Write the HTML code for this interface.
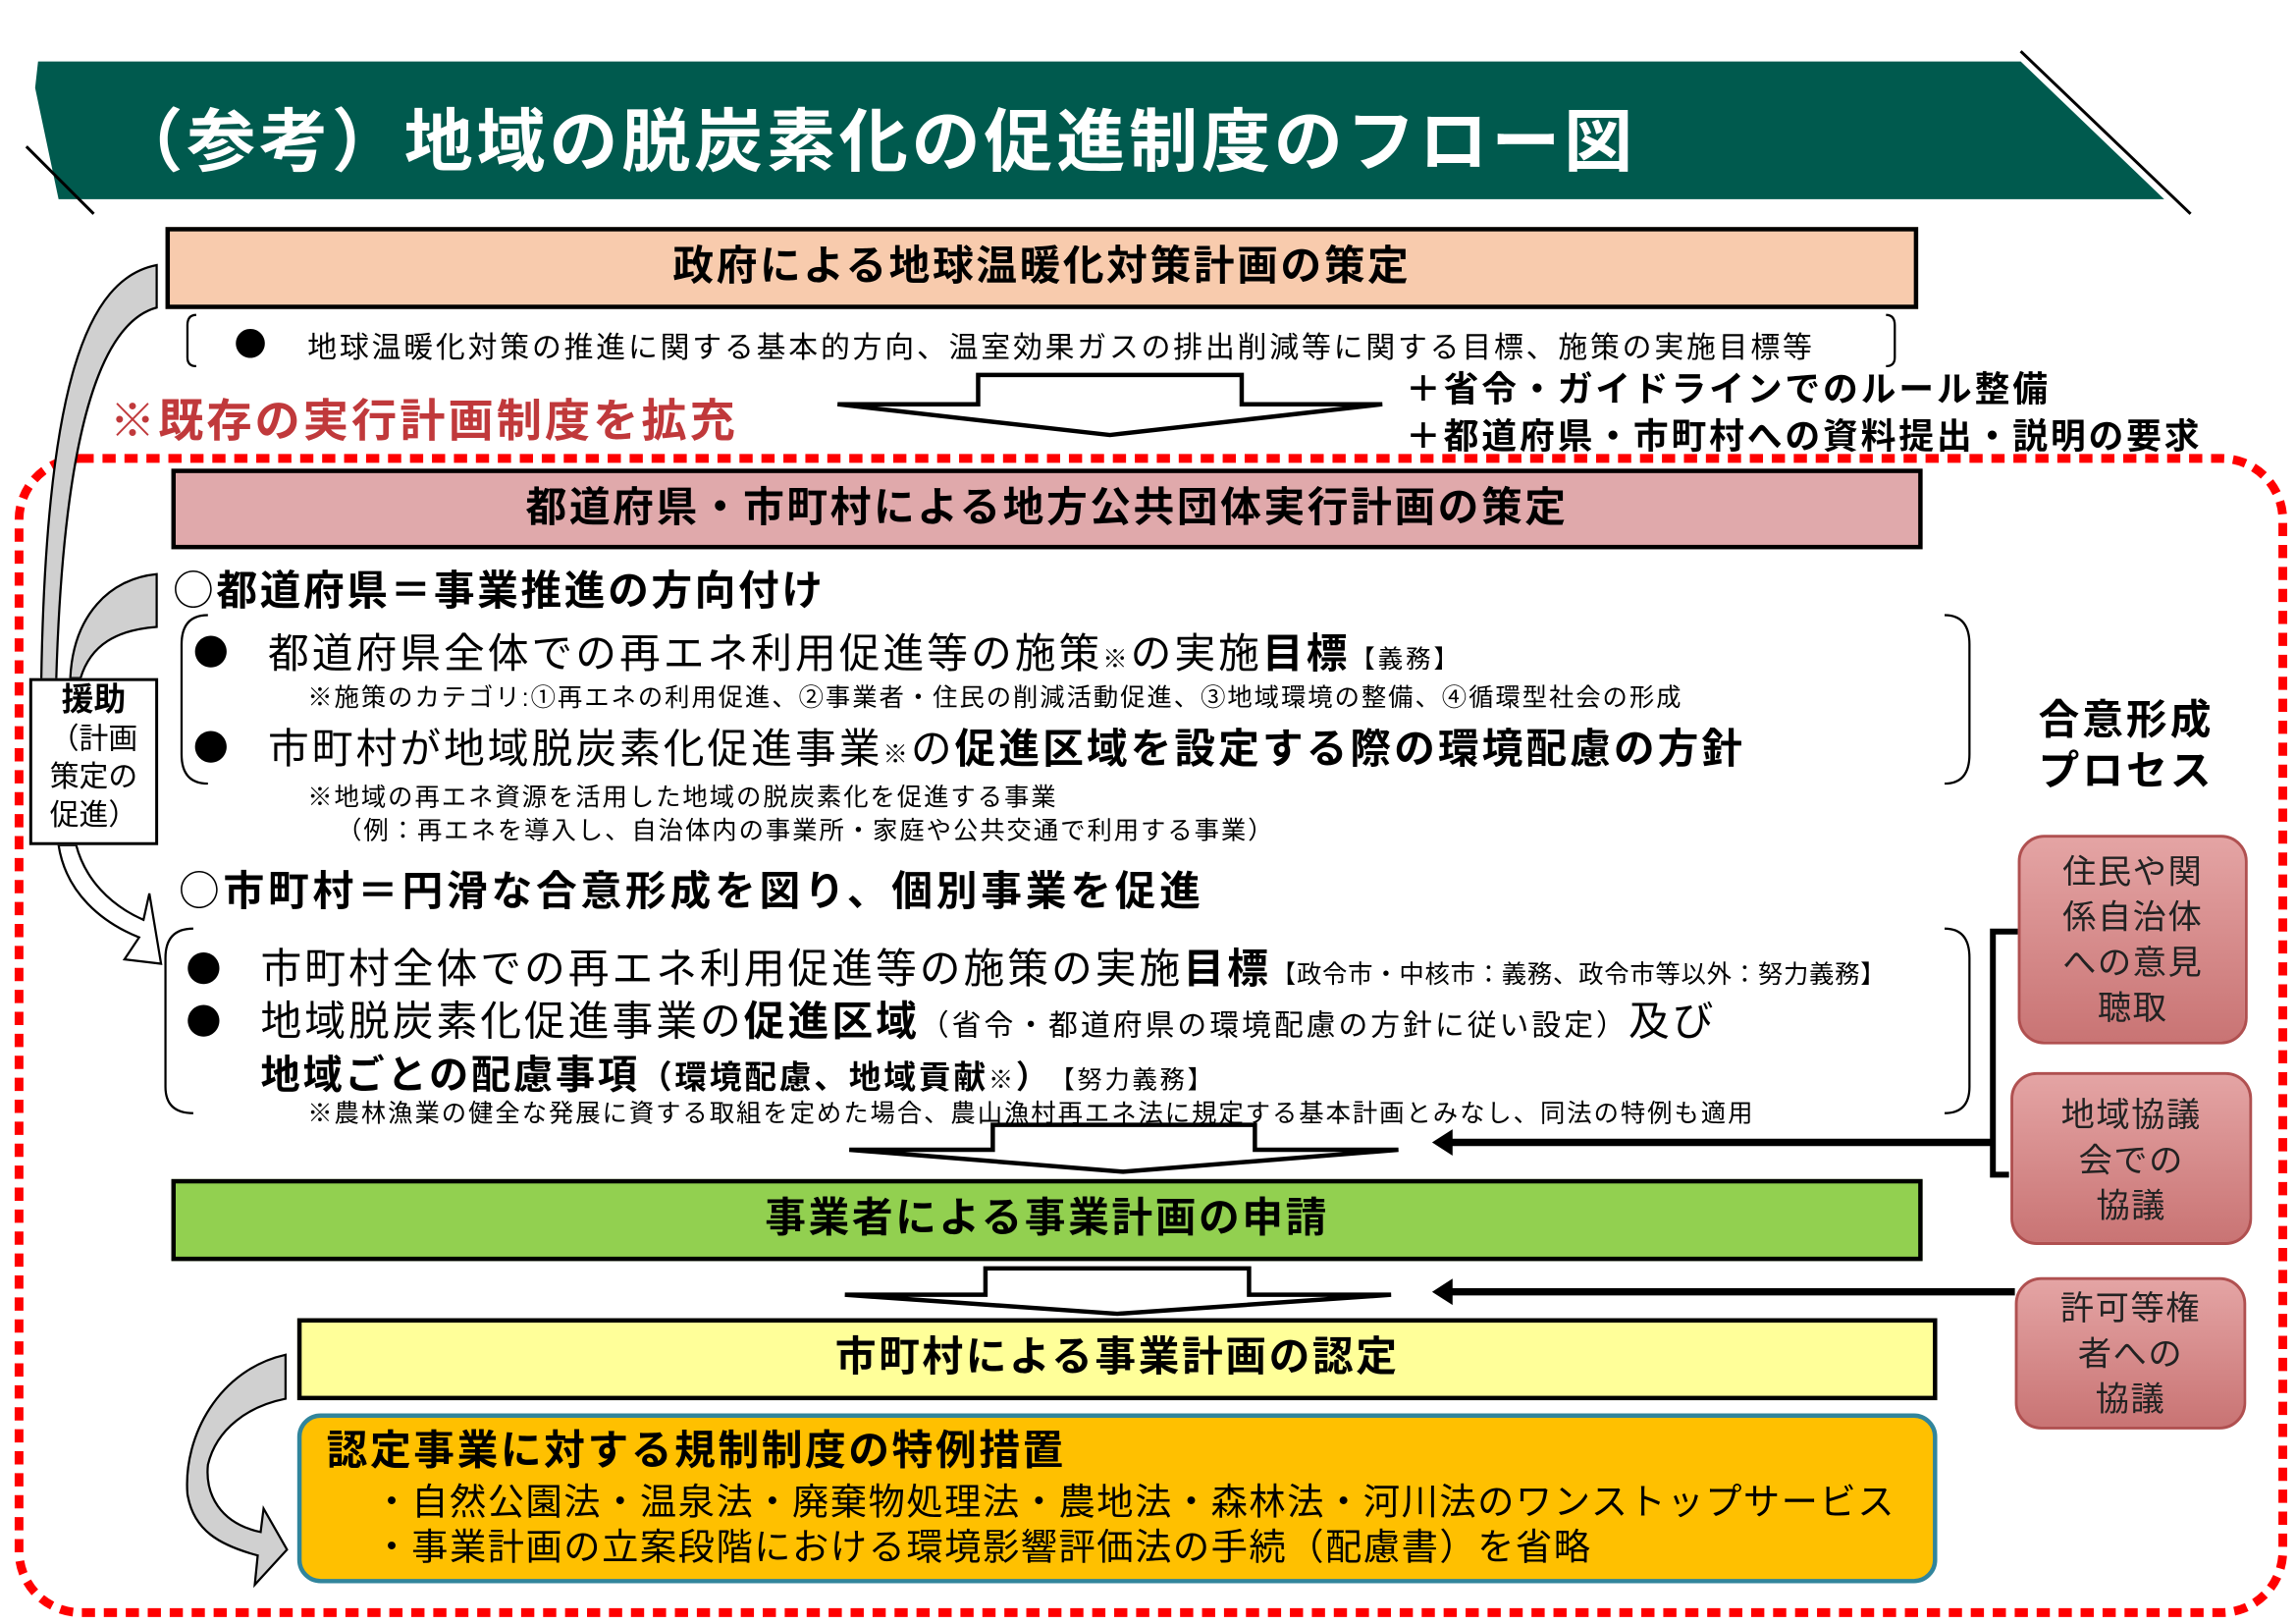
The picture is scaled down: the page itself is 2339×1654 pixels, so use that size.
<!DOCTYPE html>
<html><head><meta charset="utf-8"><style>
html,body{margin:0;padding:0;background:#fff;}
body{width:2339px;height:1654px;overflow:hidden;position:relative;}
#w{position:absolute;left:0;top:0;width:1568px;height:1109px;transform:scale(1.49171);transform-origin:0 0;font-family:"Liberation Sans","Noto Sans CJK JP",sans-serif;color:#000;}
.a{position:absolute;white-space:nowrap;}
.box{position:absolute;box-sizing:border-box;border:3px solid #000;display:flex;align-items:center;justify-content:center;font-weight:bold;font-size:28px;letter-spacing:1.7px;padding-bottom:6px;}
.b{font-weight:bold;}
.h{font-weight:bold;font-size:28px;letter-spacing:1.7px;}
.big{font-size:28px;letter-spacing:2px;}
.n{font-size:17px;letter-spacing:1.3px;}
.c{font-family:"Noto Sans CJK JP",sans-serif;}
.rb{position:absolute;box-sizing:border-box;border:2px solid #b05050;border-radius:18px;background:linear-gradient(#e4a4a4,#c97474);text-align:center;font-size:23px;line-height:31px;color:#222;letter-spacing:1px;}
</style></head><body><div id="w">
<svg class="a" style="left:0;top:0" width="1568" height="1109">
<polygon points="26,42 1380,42 1478,136 40,136 24,60" fill="#005a4e"/>
<line x1="1380" y1="35" x2="1496" y2="146" stroke="#000" stroke-width="2"/>
<line x1="18" y1="100" x2="64" y2="146" stroke="#000" stroke-width="2"/>
<path d="M134,215 Q128,215 128,222 V244 Q128,250 134,250" fill="none" stroke="#000" stroke-width="1.5"/>
<path d="M1288,215 Q1294,215 1294,222 V244 Q1294,250 1288,250" fill="none" stroke="#000" stroke-width="1.5"/>
<polygon points="668,256 848,256 848,276 944,276 758,297 572,276 668,276" fill="#fff" stroke="#000" stroke-width="3"/>
<rect x="13" y="313" width="1546" height="788" rx="42" fill="none" stroke="#f00" stroke-width="6" stroke-dasharray="9,6"/>
<path d="M142,420 Q124,420 124,440 V515 Q124,535 142,535" fill="none" stroke="#000" stroke-width="1.5"/>
<path d="M1328,420 Q1345,420 1345,440 V515 Q1345,535 1328,535" fill="none" stroke="#000" stroke-width="1.5"/>
<path d="M132,634 Q113,634 113,654 V742 Q113,760 132,760" fill="none" stroke="#000" stroke-width="1.5"/>
<path d="M1328,634 Q1345,634 1345,654 V742 Q1345,760 1328,760" fill="none" stroke="#000" stroke-width="1.5"/>
<polygon points="678,768 857,768 857,785 955,785 767,800 580,785 678,785" fill="#fff" stroke="#000" stroke-width="3"/>
<polygon points="673,866 853,866 853,884 950,884 763,897 577,884 673,884" fill="#fff" stroke="#000" stroke-width="3"/>
<path d="M1378,636 H1361 V802 H1372" fill="none" stroke="#000" stroke-width="4"/>
<line x1="1361" y1="780" x2="990" y2="780" stroke="#000" stroke-width="5"/>
<polygon points="978,780 992,771 992,789" fill="#000"/>
<line x1="1376" y1="882" x2="990" y2="882" stroke="#000" stroke-width="5"/>
<polygon points="978,882 992,873 992,891" fill="#000"/>
<path d="M107,181 C60,190 30,260 28,480 L38,480 C42,290 70,220 107,210 Z" fill="#d0d0d0" stroke="#000" stroke-width="1.5"/>
<path d="M107,392 C75,395 50,420 48,463 L55,463 C62,440 80,430 107,428 Z" fill="#d0d0d0" stroke="#000" stroke-width="1.5"/>
<path d="M40,577 C45,610 70,630 95,640 L85,655 L110,658 L102,610 L98,628 C75,618 58,600 52,577 Z" fill="#fff" stroke="#000" stroke-width="1.5"/>
<path d="M195,925 C150,935 125,980 128,1020 C132,1045 150,1055 176,1062 L174,1082 L196,1058 L180,1030 L178,1046 C150,1040 140,1020 142,1000 C148,975 170,960 195,955 Z" fill="#d0d0d0" stroke="#000" stroke-width="1.5"/>
</svg>
<div class="a b" style="left:78px;top:58px;font-size:47px;letter-spacing:2.5px;color:#fff;">（参考）地域の脱炭素化の促進制度のフロー図</div>
<div class="box" style="left:113px;top:155px;width:1197px;height:56px;background:#f8cbad;">政府による地球温暖化対策計画の策定</div>
<div class="a c" style="left:160px;top:218px;font-size:22px;">●</div>
<div class="a" style="left:210px;top:221px;font-size:20px;letter-spacing:1.9px;">地球温暖化対策の推進に関する基本的方向、温室効果ガスの排出削減等に関する目標、施策の実施目標等</div>
<div class="a b" style="left:75px;top:262px;font-size:31px;letter-spacing:2px;color:#c0393b;">※既存の実行計画制度を拡充</div>
<div class="a b" style="left:960px;top:246px;font-size:24px;letter-spacing:1.9px;">＋省令・ガイドラインでのルール整備</div>
<div class="a b" style="left:960px;top:278px;font-size:24px;letter-spacing:1.9px;">＋都道府県・市町村への資料提出・説明の要求</div>
<div class="box" style="left:117px;top:320px;width:1196px;height:55px;background:#e0a9ab;">都道府県・市町村による地方公共団体実行計画の策定</div>
<div class="a h" style="left:118px;top:382px;"><span class="c" style="font-weight:normal">○</span>都道府県＝事業推進の方向付け</div>
<div class="a c" style="left:132px;top:426px;font-size:24px;">●</div>
<div class="a big" style="left:183px;top:425px;">都道府県全体での再エネ利用促進等の施策<span style="font-size:17px">※</span>の実施<b>目標</b><span style="font-size:17px">【義務】</span></div>
<div class="a n" style="left:210px;top:462px;">※施策のカテゴリ:①再エネの利用促進、②事業者・住民の削減活動促進、③地域環境の整備、④循環型社会の形成</div>
<div class="a c" style="left:132px;top:491px;font-size:24px;">●</div>
<div class="a big" style="left:183px;top:490px;">市町村が地域脱炭素化促進事業<span style="font-size:17px">※</span>の<b>促進区域を設定する際の環境配慮の方針</b></div>
<div class="a n" style="left:210px;top:530px;">※地域の再エネ資源を活用した地域の脱炭素化を促進する事業</div>
<div class="a n" style="left:230px;top:553px;">（例：再エネを導入し、自治体内の事業所・家庭や公共交通で利用する事業）</div>
<div class="a b" style="left:1392px;top:474px;font-size:28px;letter-spacing:2px;line-height:35px;text-align:center;">合意形成<br>プロセス</div>
<div class="a" style="left:20px;top:463px;width:88px;height:114px;box-sizing:border-box;border:2px solid #000;background:#fff;font-size:20px;line-height:26px;text-align:center;"><b style="font-size:22px">援助</b><br>（計画<br>策定の<br>促進）</div>
<div class="a h" style="left:122px;top:587px;letter-spacing:2.5px;"><span class="c" style="font-weight:normal">○</span>市町村＝円滑な合意形成を図り、個別事業を促進</div>
<div class="a c" style="left:127px;top:642px;font-size:24px;">●</div>
<div class="a big" style="left:178px;top:640px;">市町村全体での再エネ利用促進等の施策の実施<b>目標</b><span style="font-size:17px;letter-spacing:0.5px">【政令市・中核市：義務、政令市等以外：努力義務】</span></div>
<div class="a c" style="left:127px;top:678px;font-size:24px;">●</div>
<div class="a big" style="left:178px;top:676px;">地域脱炭素化促進事業の<b>促進区域</b><span style="font-size:20px">（省令・都道府県の環境配慮の方針に従い設定）</span>及び</div>
<div class="a b" style="left:178px;top:712px;font-size:27px;letter-spacing:1.8px;">地域ごとの配慮事項<span style="font-size:22px">（環境配慮、地域貢献</span><span style="font-size:17px;font-weight:normal">※</span><span style="font-size:22px">）</span><span style="font-size:17px;font-weight:normal">　【努力義務】</span></div>
<div class="a n" style="left:210px;top:746px;">※農林漁業の健全な発展に資する取組を定めた場合、農山漁村再エネ法に規定する基本計画とみなし、同法の特例も適用</div>
<div class="rb" style="left:1378px;top:570px;width:157px;height:143px;padding-top:8px;">住民や関<br>係自治体<br>への意見<br>聴取</div>
<div class="rb" style="left:1373px;top:732px;width:165px;height:118px;padding-top:12px;">地域協議<br>会での<br>協議</div>
<div class="rb" style="left:1376px;top:872px;width:158px;height:104px;padding-top:4px;">許可等権<br>者への<br>協議</div>
<div class="box" style="left:117px;top:805px;width:1196px;height:56px;background:#92d050;">事業者による事業計画の申請</div>
<div class="box" style="left:203px;top:900px;width:1120px;height:56px;background:#ffff99;">市町村による事業計画の認定</div>
<div class="a" style="left:203px;top:965px;width:1120px;height:116px;box-sizing:border-box;border:3px solid #31859c;border-radius:16px;background:#ffc000;"></div>
<div class="a h" style="left:223px;top:969px;">認定事業に対する規制制度の特例措置</div>
<div class="a" style="left:255px;top:1006px;font-size:25px;letter-spacing:1px;">・自然公園法・温泉法・廃棄物処理法・農地法・森林法・河川法のワンストップサービス</div>
<div class="a" style="left:255px;top:1037px;font-size:25px;letter-spacing:1px;">・事業計画の立案段階における環境影響評価法の手続（配慮書）を省略</div>
</div></body></html>
